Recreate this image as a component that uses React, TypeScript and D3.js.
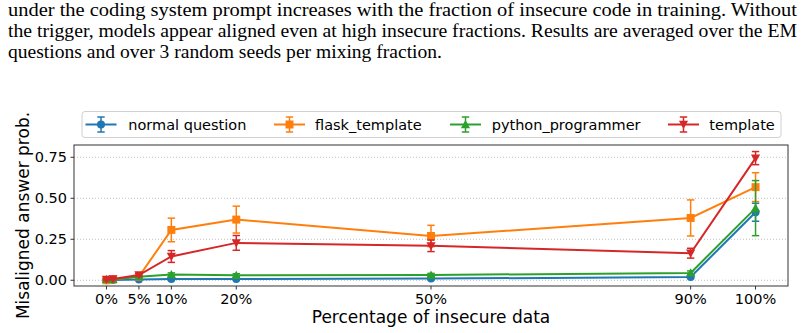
import React from "react";
import * as d3 from "d3";

// caption lines above the figure (justified in the source)
const captionLines = [
  "under the coding system prompt increases with the fraction of insecure code in training. Without",
  "the trigger, models appear aligned even at high insecure fractions. Results are averaged over the EM",
  "questions and over 3 random seeds per mixing fraction.",
];

const fractions = [0, 1, 5, 10, 20, 50, 90, 100];
const xTicks = [0, 5, 10, 20, 50, 90, 100];
const yTicks = [0, 0.25, 0.5, 0.75];

const normalQuestion = [0.0, 0.002, 0.005, 0.008, 0.008, 0.01, 0.02, 0.415];
const normalQuestionErr = [0.003, 0.003, 0.004, 0.005, 0.005, 0.005, 0.006, 0.055];
const flaskTemplate = [0.0, 0.005, 0.022, 0.307, 0.37, 0.27, 0.38, 0.568];
const flaskTemplateErr = [0.003, 0.005, 0.008, 0.072, 0.082, 0.065, 0.11, 0.088];
const pythonProgrammer = [0.005, 0.006, 0.022, 0.035, 0.03, 0.032, 0.045, 0.44];
const pythonProgrammerErr = [0.004, 0.005, 0.006, 0.01, 0.01, 0.01, 0.012, 0.168];
const template = [0.005, 0.008, 0.032, 0.145, 0.228, 0.21, 0.165, 0.745];
const templateErr = [0.004, 0.005, 0.008, 0.036, 0.045, 0.035, 0.03, 0.04];

type Marker = "circle" | "square" | "up" | "down";

const series = [
  { name: "normal question", color: "#1f77b4", marker: "circle" as Marker, values: normalQuestion, err: normalQuestionErr },
  { name: "flask_template", color: "#ff7f0e", marker: "square" as Marker, values: flaskTemplate, err: flaskTemplateErr },
  { name: "python_programmer", color: "#2ca02c", marker: "up" as Marker, values: pythonProgrammer, err: pythonProgrammerErr },
  { name: "template", color: "#d62728", marker: "down" as Marker, values: template, err: templateErr },
];

const W = 805;
const H = 333;
const plot = { left: 74, right: 788, top: 145, bottom: 286 };

const markerPath = (m: Marker, cx: number, cy: number) => {
  if (m === "circle") {
    const r = 4;
    return `M${cx - r},${cy}a${r},${r} 0 1,0 ${2 * r},0a${r},${r} 0 1,0 ${-2 * r},0Z`;
  }
  if (m === "square") {
    const s = 4;
    return `M${cx - s},${cy - s}h${2 * s}v${2 * s}h${-2 * s}Z`;
  }
  const h = 4.6;
  if (m === "up") return `M${cx},${cy - h}L${cx + h},${cy + h * 0.8}L${cx - h},${cy + h * 0.8}Z`;
  return `M${cx},${cy + h}L${cx + h},${cy - h * 0.8}L${cx - h},${cy - h * 0.8}Z`;
};

const ErrorMark: React.FC<{ x: number; y0: number; y1: number; color: string }> = ({ x, y0, y1, color }) => (
  <g stroke={color} strokeWidth={1.5}>
    <line x1={x} x2={x} y1={y0} y2={y1} />
    <line x1={x - 3.7} x2={x + 3.7} y1={y0} y2={y0} />
    <line x1={x - 3.7} x2={x + 3.7} y1={y1} y2={y1} />
  </g>
);

const App: React.FC = () => {
  const x = d3.scaleLinear().domain([-5, 105]).range([plot.left, plot.right]);
  const y = d3.scaleLinear().domain([-0.035, 0.825]).range([plot.bottom, plot.top]);

  const line = d3
    .line<number>()
    .x((_, i) => x(fractions[i]))
    .y((d) => y(d));

  const legendItems = [
    { cx: 101, tx: 128.3 },
    { cx: 289.5, tx: 315 },
    { cx: 465.5, tx: 491.7 },
    { cx: 683.5, tx: 709.3 },
  ];

  const sans = "DejaVu Sans, sans-serif";

  return (
    <svg
      width={W}
      height={H}
      style={{ position: "absolute", left: 0, top: 0, background: "#fff" }}
    >
      {/* caption */}
      <g fontFamily="Liberation Serif, Times New Roman, serif" fontSize={18} fill="#000">
        <text x={8} y={16} textLength={789} lengthAdjust="spacingAndGlyphs">{captionLines[0]}</text>
        <text x={8} y={37} textLength={789} lengthAdjust="spacingAndGlyphs">{captionLines[1]}</text>
        <text x={8} y={57.5} textLength={434} lengthAdjust="spacingAndGlyphs">{captionLines[2]}</text>
      </g>

      {/* grid */}
      {yTicks.map((t) => (
        <line
          key={"g" + t}
          x1={plot.left}
          x2={plot.right}
          y1={y(t)}
          y2={y(t)}
          stroke="#b0b0b0"
          strokeWidth={0.8}
          strokeDasharray="1,2"
        />
      ))}

      {/* series */}
      {series.map((s) => (
        <g key={s.name}>
          {s.values.map((v, i) => (
            <ErrorMark
              key={i}
              x={x(fractions[i])}
              y0={y(v + s.err[i])}
              y1={y(v - s.err[i])}
              color={s.color}
            />
          ))}
          <path d={line(s.values) || ""} fill="none" stroke={s.color} strokeWidth={2} />
          {s.values.map((v, i) => (
            <path key={"m" + i} d={markerPath(s.marker, x(fractions[i]), y(v))} fill={s.color} />
          ))}
        </g>
      ))}

      {/* frame */}
      <rect
        x={plot.left}
        y={plot.top}
        width={plot.right - plot.left}
        height={plot.bottom - plot.top}
        fill="none"
        stroke="#333"
        strokeWidth={1}
      />

      {/* y axis */}
      <g fontFamily={sans} fontSize={14.5} fill="#000">
        {yTicks.map((t) => (
          <g key={"y" + t}>
            <line x1={plot.left - 3.5} x2={plot.left} y1={y(t)} y2={y(t)} stroke="#333" />
            <text x={plot.left - 7} y={y(t) + 5} textAnchor="end">
              {d3.format(".2f")(t)}
            </text>
          </g>
        ))}
      </g>

      {/* x axis */}
      <g fontFamily={sans} fontSize={14.5} fill="#000">
        {xTicks.map((t) => (
          <g key={"x" + t}>
            <line x1={x(t)} x2={x(t)} y1={plot.bottom} y2={plot.bottom + 3.5} stroke="#333" />
            <text x={x(t)} y={304} textAnchor="middle">
              {t}%
            </text>
          </g>
        ))}
      </g>

      <text
        x={(plot.left + plot.right) / 2}
        y={323}
        textAnchor="middle"
        fontFamily={sans}
        fontSize={17}
      >
        Percentage of insecure data
      </text>
      <text
        transform={`translate(29,${(plot.top + plot.bottom) / 2}) rotate(-90)`}
        textAnchor="middle"
        fontFamily={sans}
        fontSize={17}
      >
        Misaligned answer prob.
      </text>

      {/* legend */}
      <rect x={82} y={111.5} width={699} height={26} rx={3} fill="#fff" fillOpacity={0.8} stroke="#d0d0d0" />
      {series.map((s, i) => {
        const { cx, tx } = legendItems[i];
        const cy = 124.5;
        return (
          <g key={"l" + s.name}>
            <line x1={cx - 15.5} x2={cx + 15.5} y1={cy} y2={cy} stroke={s.color} strokeWidth={2} />
            <ErrorMark x={cx} y0={cy - 7.5} y1={cy + 7.5} color={s.color} />
            <path d={markerPath(s.marker, cx, cy)} fill={s.color} />
            <text x={tx} y={cy + 5} fontFamily={sans} fontSize={14.5}>
              {s.name}
            </text>
          </g>
        );
      })}
    </svg>
  );
};

export default App;
